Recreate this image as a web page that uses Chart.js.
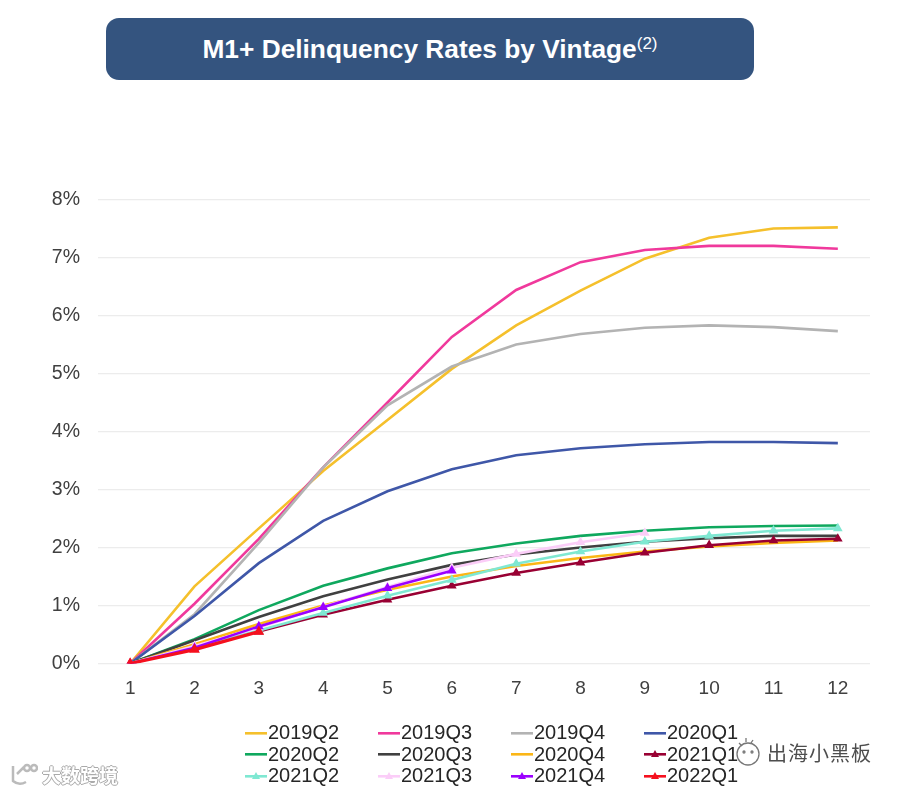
<!DOCTYPE html>
<html>
<head>
<meta charset="utf-8">
<script src="https://cdn.jsdelivr.net/npm/chart.js@4"></script>
<style>
    html, body { margin: 0; padding: 0; background: #fff; }
    body { position: relative; width: 900px; height: 792px; overflow: hidden; font-family: "Liberation Sans", Arial, sans-serif; }
    #chart { position: absolute; left: 0; top: 0; }
    #banner {
        position: absolute; left: 106px; top: 18px; width: 648px; height: 62px;
        background: #34547f; border-radius: 13px; color: #fff;
        font-weight: bold; font-size: 26.3px; line-height: 63px; text-align: center;
    }
    #banner sup { font-size: 17px; font-weight: normal; line-height: 0; vertical-align: 9px; }
    #legend { position: absolute; left: 245px; top: 722px; width: 532px; display: grid; grid-template-columns: repeat(4, 133px); grid-auto-rows: 21.5px; }
    .item { display: flex; align-items: center; font-size: 20px; color: #262626; white-space: nowrap; }
    .item canvas { margin-right: 1px; }
    .wm { position: absolute; white-space: nowrap; }
    #wm1 { left: 731px; top: 735px; padding: 0 4px; color: #4d4d4d; font: 20px "Noto Sans CJK SC"; letter-spacing: 1px; display: flex; align-items: center; }
    #wm2 { left: 8px; top: 761px; color: #fff; font: bold 19px "Noto Sans CJK SC"; display: flex; align-items: center;
        text-shadow: -1px 0 #aaa, 1px 0 #aaa, 0 -1px #aaa, 0 1px #aaa; }
    .wm svg { margin-right: 4px; }
</style>
</head>
<body>
<canvas id="chart" width="900" height="792"></canvas>
<div id="banner">M1+ Delinquency Rates by Vintage<sup>(2)</sup></div>
<div id="legend"></div>
<div class="wm" id="wm1"><svg width="28" height="34" viewBox="0 0 28 34" fill="none" stroke="#777" stroke-width="1.3"><circle cx="13" cy="19" r="11"/><circle cx="9" cy="17" r="1"/><circle cx="17" cy="17" r="1"/><path d="M4 8l3 3M11 3v4M18 5l-2 3"/></svg>出海小黑板</div>
<div class="wm" id="wm2"><svg width="30" height="26" viewBox="0 0 30 26" fill="none" stroke="#bbb" stroke-width="2.5"><path d="M5 4v15q6 5 13 1M9 12l7-7"/><circle cx="19" cy="6" r="3"/><circle cx="26" cy="6" r="3"/></svg>大数跨境</div>
<script>
const months = ['1', '2', '3', '4', '5', '6', '7', '8', '9', '10', '11', '12'];
const yTicks = [0, 1, 2, 3, 4, 5, 6, 7, 8];

const q2019Q2 = [0, 1.33, 2.33, 3.32, 4.2, 5.08, 5.83, 6.43, 6.98, 7.34, 7.5, 7.52];
const q2019Q3 = [0, 1.03, 2.15, 3.38, 4.5, 5.63, 6.44, 6.92, 7.13, 7.2, 7.2, 7.15];
const q2019Q4 = [0, 0.85, 2.08, 3.38, 4.45, 5.12, 5.5, 5.68, 5.79, 5.83, 5.8, 5.73];
const q2020Q1 = [0, 0.82, 1.73, 2.46, 2.97, 3.35, 3.59, 3.71, 3.78, 3.82, 3.82, 3.8];
const q2020Q2 = [0, 0.42, 0.92, 1.34, 1.64, 1.9, 2.07, 2.2, 2.29, 2.35, 2.37, 2.38];
const q2020Q3 = [0, 0.4, 0.8, 1.16, 1.45, 1.7, 1.88, 2.0, 2.1, 2.16, 2.2, 2.2];
const q2020Q4 = [0, 0.33, 0.68, 1.0, 1.27, 1.5, 1.68, 1.82, 1.93, 2.02, 2.08, 2.12];
const q2021Q1 = [0, 0.28, 0.55, 0.84, 1.1, 1.34, 1.56, 1.74, 1.91, 2.04, 2.12, 2.15];
const q2021Q2 = [0, 0.28, 0.57, 0.87, 1.17, 1.44, 1.72, 1.93, 2.1, 2.2, 2.29, 2.33];
const q2021Q3 = [0, 0.3, 0.62, 0.98, 1.32, 1.65, 1.89, 2.09, 2.25];
const q2021Q4 = [0, 0.27, 0.64, 0.97, 1.3, 1.6];
const q2022Q1 = [0, 0.24, 0.55];

const names = ['2019Q2', '2019Q3', '2019Q4', '2020Q1', '2020Q2', '2020Q3', '2020Q4', '2021Q1', '2021Q2', '2021Q3', '2021Q4', '2022Q1'];
const values = [q2019Q2, q2019Q3, q2019Q4, q2020Q1, q2020Q2, q2020Q3, q2020Q4, q2021Q1, q2021Q2, q2021Q3, q2021Q4, q2022Q1];
const colors = ['#f5c02c', '#f0399c', '#b3b3b3', '#3f57a8', '#0fa85e', '#404040', '#fbb616', '#990033', '#7fe8d2', '#fbcdf8', '#9b00ff', '#f5101e'];
const markers = [0, 0, 0, 0, 0, 0, 0, 1, 1, 1, 1, 1];

const chart = new Chart(document.getElementById('chart'), {
    type: 'line',
    data: {
        labels: months,
        datasets: names.map((name, i) => ({
            label: name,
            data: values[i],
            borderColor: colors[i],
            backgroundColor: colors[i],
            borderWidth: i === 11 ? 3.2 : 2.6,
            tension: 0,
            order: -i,
            pointStyle: 'triangle',
            pointRadius: markers[i] ? 3 : 0
        }))
    },
    options: {
        responsive: false,
        animation: false,
        layout: { padding: { top: 199.5, right: 30, left: 0, bottom: 0 } },
        plugins: { legend: { display: false }, title: { display: false }, tooltip: { enabled: false } },
        scales: {
            x: {
                offset: true,
                grid: { display: false },
                border: { display: false },
                ticks: { color: '#404040', font: { family: 'Liberation Sans', size: 19 }, padding: 6, maxRotation: 0 },
                afterFit: (axis) => { axis.height = 128.5; }
            },
            y: {
                min: 0,
                max: 8,
                afterBuildTicks: (axis) => { axis.ticks = yTicks.map(v => ({ value: v })); },
                grid: { color: '#ececec', lineWidth: 1.3, drawTicks: false },
                border: { display: false },
                ticks: {
                    color: '#404040',
                    font: { family: 'Liberation Sans', size: 19.5 },
                    padding: 18,
                    callback: (v) => v + '%'
                },
                afterFit: (axis) => { axis.width = 98; }
            }
        }
    }
});

// legend laid out as in the slide: 4 columns, 3 rows
const legendBox = document.getElementById('legend');
chart.data.datasets.forEach((ds, i) => {
    const item = document.createElement('div');
    item.className = 'item';
    const swatch = document.createElement('canvas');
    swatch.width = 22;
    swatch.height = 14;
    const ctx = swatch.getContext('2d');
    ctx.fillStyle = ds.borderColor;
    ctx.fillRect(0, 6, 22, 2.6);
    if (markers[i]) {
        ctx.beginPath();
        ctx.moveTo(11, 3);
        ctx.lineTo(15, 10);
        ctx.lineTo(7, 10);
        ctx.fill();
    }
    item.appendChild(swatch);
    item.appendChild(document.createTextNode(ds.label));
    legendBox.appendChild(item);
});
</script>
</body>
</html>
